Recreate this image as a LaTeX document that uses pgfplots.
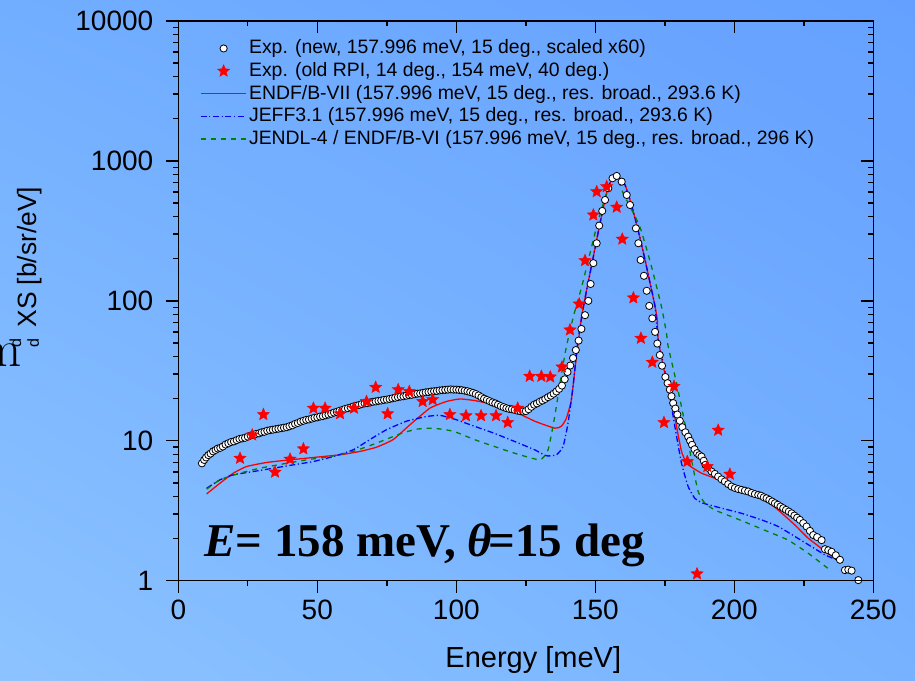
\documentclass[border=0pt]{standalone}
\usepackage{fontspec}
\setsansfont{Liberation Sans}
\newfontfamily\timesfont{Liberation Serif}
\usepackage{pgfplots}
\usetikzlibrary{shadings}
\pgfplotsset{compat=1.18}
\pgfdeclareplotmark{fstar}{%
  \pgfpathmoveto{\pgfpointpolar{90}{\pgfplotmarksize}}%
  \pgfpathlineto{\pgfpointpolar{126}{0.45\pgfplotmarksize}}%
  \pgfpathlineto{\pgfpointpolar{162}{\pgfplotmarksize}}%
  \pgfpathlineto{\pgfpointpolar{198}{0.45\pgfplotmarksize}}%
  \pgfpathlineto{\pgfpointpolar{234}{\pgfplotmarksize}}%
  \pgfpathlineto{\pgfpointpolar{270}{0.45\pgfplotmarksize}}%
  \pgfpathlineto{\pgfpointpolar{306}{\pgfplotmarksize}}%
  \pgfpathlineto{\pgfpointpolar{342}{0.45\pgfplotmarksize}}%
  \pgfpathlineto{\pgfpointpolar{18}{\pgfplotmarksize}}%
  \pgfpathlineto{\pgfpointpolar{54}{0.45\pgfplotmarksize}}%
  \pgfpathclose
  \pgfusepathqfillstroke}
\pgfplotsset{
  markleg/.style={legend image code/.code={\draw[##1] plot coordinates {(11.5pt,0pt)};}},
  lineleg/.style={legend image code/.code={\draw[##1] (0pt,0pt) -- (22.5pt,0pt);}},
}
\definecolor{bgUL}{RGB}{114,174,255}
\definecolor{bgUR}{RGB}{100,160,255}
\definecolor{bgLL}{RGB}{140,195,255}
\definecolor{bgLR}{RGB}{118,178,255}
\definecolor{jgreen}{RGB}{0,128,0}
\pgfplotstableread{
x y
8.5 6.9
9.3 7.3
10 7.6
10.8 7.9
11.6 8.1
12.5 8.4
13.4 8.6
14.2 8.8
15.1 8.9
16 9.1
17 9.4
18 9.6
19 9.8
20 9.9
21 10.1
22 10.3
23 10.4
24 10.5
25 10.7
26 10.9
27 11.0
28 11.2
29 11.3
30 11.5
31 11.6
32 11.8
33 11.9
34 12.0
35 12.1
36 12.2
37 12.3
38 12.4
39 12.5
40 12.7
41 12.9
42 13.2
43 13.4
44 13.7
45 13.9
46 14.1
47 14.2
48 14.4
49 14.6
50 14.7
51 14.9
52 15.0
53 15.2
54 15.4
55 15.6
56 15.9
57 16.1
58 16.4
59 16.6
60 16.9
61 17.1
62 17.3
63 17.6
64 17.8
65 18.0
66 18.3
67 18.5
68 18.6
69 18.8
70 19.0
71 19.1
72 19.3
73 19.4
74 19.6
75 19.7
76 19.9
77 20.1
78 20.3
79 20.5
80 20.7
81 20.8
82 21.0
83 21.2
84 21.3
85 21.5
86 21.7
87 21.8
88 22.0
89 22.2
90 22.3
91 22.5
92 22.6
93 22.7
94 22.9
95 23.0
96 23.1
97 23.2
98 23.3
99 23.2
100 23.2
101 23.1
102 23.0
103 22.8
104 22.6
105 22.3
106 22.0
107 21.6
108 21.1
109 20.5
110 20.0
111 19.6
112 19.2
113 18.8
114 18.5
115 18.1
116 17.7
117 17.4
118 17.1
119 16.9
120 16.8
121 16.6
122 16.4
123 16.3
124 16.2
125 16.3
126 16.8
127 17.5
128 18.1
129 18.5
130 19.0
131 19.4
132 19.9
133 20.5
134 21.0
135 21.7
136 22.5
137 23.5
138 24.8
139 27.5
140 31.0
141 34.5
142 39
143 44.5
144 52
145 63
146.3 79
147.5 100
148.3 132
149.3 186
150.5 258
151.4 345
152.5 439
153.5 526
154.7 638
156.2 752
157.7 781
159.5 711
161.3 571
162.5 484
164.6 330
165.5 258
166.3 196
167.5 151
168.5 118
169.4 92
170.5 75
171.5 60
172.3 49.5
173.2 41
174.0 34.4
175.2 28.6
176.0 25.8
176.8 23.2
177.4 20.8
178.0 18.6
178.8 17
179.5 15.4
180.4 13.9
181.3 12.5
182.4 11.5
183.4 10.7
184.1 10.0
184.8 9.36
185.7 8.7
186.6 8.16
187.4 7.9
188.2 7.72
189 7.2
189.6 6.73
190.6 6.4
191.8 6.03
193 5.8
194.2 5.55
195.4 5.3
196.6 5.12
197.8 4.9
199.0 4.71
200.2 4.6
201.4 4.52
202.6 4.46
203.8 4.4
205.0 4.34
206.2 4.24
207.4 4.16
208.6 4.10
209.6 4.05
210.6 3.95
211.6 3.88
212.6 3.78
213.6 3.68
214.6 3.58
215.6 3.49
216.6 3.39
217.6 3.30
218.6 3.21
219.6 3.12
220.6 3.03
221.6 2.92
222.6 2.82
223.6 2.72
224.8 2.58
226.0 2.44
227.2 2.27
228.4 2.12
229.8 2.05
231.4 1.95
232.6 1.68
233.8 1.65
235.0 1.61
236.5 1.52
238.0 1.41
239.8 1.19
241 1.2
242.2 1.18
244.6 1.01
}\expnew
\pgfplotstableread{
x y
22.2 7.5
26.6 11.0
30.6 15.4
34.8 5.97
40.2 7.39
45.0 8.76
48.6 17.1
52.8 17.1
58.2 15.6
63.2 17.1
67.7 19.1
71.0 24.1
75.3 15.6
79.1 23.2
83.1 22.5
87.9 19.1
91.5 19.7
97.7 15.4
103.5 15.1
108.9 15.1
114.3 15.1
118.5 13.5
122.1 17.1
126.4 28.9
130.6 28.9
133.8 28.6
138.0 33.7
140.9 62
144.2 95
146.3 194
149.3 411
150.5 603
154.1 655
157.7 467
159.7 276
163.7 105
166.4 54
170.5 36.4
174.7 13.5
178.3 24.5
183.1 7.11
186.6 1.12
190.3 6.55
194.2 11.9
198.4 5.77
}\expold
\pgfplotstableread{
x y
10.2 4.17
15 4.98
19.8 5.87
24.6 6.55
31.8 7.0
40.2 7.31
49.8 7.64
58.2 7.94
65.3 8.39
71.3 9.0
77.3 10.2
83.3 13
90.5 17.1
96.5 19.1
101.3 19.9
106.5 19.4
113.7 18.1
120.9 16.2
128.2 13.8
135.4 12.3
137.8 12.7
139.6 14.5
141.4 19.7
143.2 40
145.1 77
146.9 120
149.3 207
151.7 359
153.5 526
154.7 655
156.2 752
157.7 785
158.9 752
160.7 674
162.5 526
164.3 389
166.1 280
167.9 196
169.7 134
171.5 91
172.3 73
172.6 52.9
174.7 32.2
176.2 25.9
178.6 14.9
179.2 12.7
181.0 8.4
182.8 6.92
185.2 6.37
188.2 5.87
193 5.4
199 4.84
205 4.22
211 3.78
215.8 3.2
221.8 2.5
226.6 2.01
231.4 1.70
236.8 1.41
}\endfb
\pgfplotstableread{
x y
10.2 4.58
15 5.26
19.8 5.71
27 6.03
34.2 6.37
41.4 6.73
48.6 7.11
55.8 7.72
62.9 8.62
68.9 10.2
74.9 12.0
82.1 13.8
89.3 14.9
94.1 15.2
99.3 14.3
106.5 12.7
113.7 11.3
120.9 9.9
128.2 8.62
132.4 7.81
136 7.94
138.4 9.1
140.2 13.4
142.0 24.5
143.5 47.4
145.1 77
146.9 120
149.3 207
151.7 359
153.5 526
154.7 655
156.2 752
157.7 785
158.9 752
160.7 674
162.5 526
164.3 389
166.1 280
167.9 196
169.7 134
171.5 91
172.6 52.9
174.7 34
176.8 20.8
178.6 12.7
181 6.92
183.4 4.71
185.8 3.88
188.8 3.58
195.4 3.30
202.6 3.03
209.8 2.72
215.8 2.44
221.8 2.07
227.8 1.75
232.6 1.53
236.8 1.41
}\jeff
\pgfplotstableread{
x y
10.2 4.51
15 5.26
22.2 5.87
29.4 6.37
37.8 6.84
46.2 7.31
54.6 7.72
62.9 8.39
71.3 9.62
79.7 11.2
85.7 12.1
91.7 12.3
98.9 11.7
106.5 10.2
113.7 9.1
120.9 8.16
130 7.31
133 8.6
135.4 14.9
137.5 27.3
139.6 47
142.1 77
145.1 126
148.1 219
151.1 379
154.1 588
155.9 711
157.7 773
158.9 680
160 588
166 340
170.2 176
173.8 91
175.6 58.7
176.2 47.4
179.2 25.9
182.2 13.4
184.6 7.31
187 4.34
189.4 3.58
193 3.2
199 2.87
205 2.57
212.2 2.24
219.4 1.95
226.6 1.57
233.8 1.22
}\jendl
\begin{document}
\begin{tikzpicture}
\shade[upper left=bgUL, upper right=bgUR, lower left=bgLL, lower right=bgLR] (-89.15pt,-49.65pt) rectangle (368.35pt,290.35pt);
\begin{axis}[
  at={(0pt,0pt)}, anchor=south west,
  width=347.5pt, height=279.85pt, scale only axis,
  xmin=0, xmax=250, ymin=1, ymax=10000, ymode=log,
  xtick={0,50,...,250}, minor xtick={25,75,...,225},
  ytick={1,10,100,1000,10000}, yticklabels={1,10,100,1000,10000},
  minor ytick={2,3,4,5,6,7,8,9,20,30,40,50,60,70,80,90,200,300,400,500,600,700,800,900,2000,3000,4000,5000,6000,7000,8000,9000},
  tick pos=left, tick align=outside,
  major tick length=6pt, minor tick length=2.75pt,
  axis line style={line width=0.75pt},
  every tick/.style={black, line width=0.7pt},
  tick label style={font=\sffamily\fontsize{14}{16}\selectfont},
  yticklabel style={xshift=-3pt},
  /pgf/number format/assume math mode=true,
  legend style={at={(0.022,0.979)}, anchor=north west, draw=none, fill=none,
    font=\sffamily\fontsize{9.7}{12}\selectfont, row sep=0pt,
    nodes={inner sep=1.4pt}},
  legend cell align=left,
]
\addplot[only marks, mark=*, mark size=1.8pt, mark options={fill=white, draw=black, line width=0.4pt}, markleg] table[x=x,y=y] {\expnew};
\addlegendentry{Exp. (new, 157.996 meV, 15 deg., scaled x60)}
\addplot[only marks, mark=fstar, mark size=3.2pt, mark options={fill=red, draw=red, line width=0.2pt}, markleg] table[x=x,y=y] {\expold};
\addlegendentry{Exp. (old RPI, 14 deg., 154 meV, 40 deg.)}
\addplot[red, line width=0.65pt, smooth, tension=0.3, lineleg] table[x=x,y=y] {\endfb};
\addlegendentry{ENDF/B-VII (157.996 meV, 15 deg., res. broad., 293.6 K)}
\addplot[blue, line width=0.65pt, smooth, tension=0.3, dash pattern=on 3pt off 1.3pt on 0.6pt off 1.3pt, lineleg] table[x=x,y=y] {\jeff};
\addlegendentry{JEFF3.1 (157.996 meV, 15 deg., res. broad., 293.6 K)}
\addplot[jgreen, line width=0.65pt, smooth, tension=0.3, dash pattern=on 2.5pt off 2.5pt, lineleg] table[x=x,y=y] {\jendl};
\addlegendentry{JENDL-4 / ENDF/B-VI (157.996 meV, 15 deg., res. broad., 296 K)}
\node[anchor=base west, inner sep=0pt, font=\timesfont\bfseries\fontsize{23.5}{28}\selectfont]
  at (rel axis cs:0.037,0.044) {\textit{E}= 158 meV, \textit{θ}\kern-0.08em=15 deg};
\end{axis}
\begin{axis}[
  at={(0pt,0pt)}, anchor=south west,
  width=347.5pt, height=279.85pt, scale only axis,
  xmin=0, xmax=250, ymin=1, ymax=10000, ymode=log,
  xtick={0,50,...,250}, minor xtick={25,75,...,225},
  ytick={1,10,100,1000,10000},
  minor ytick={2,3,4,5,6,7,8,9,20,30,40,50,60,70,80,90,200,300,400,500,600,700,800,900,2000,3000,4000,5000,6000,7000,8000,9000},
  xticklabels={}, yticklabels={},
  tick pos=right, tick align=inside,
  major tick length=6pt, minor tick length=2.75pt,
  axis line style={line width=0.75pt},
  every tick/.style={black, line width=0.7pt},
]
\end{axis}
\node[font=\sffamily\fontsize{14.5}{17}\selectfont] at (177.5pt,-39.5pt) {Energy [meV]};
\node[rotate=90, anchor=west, inner sep=0pt, font=\sffamily\fontsize{13.2}{15}\selectfont] at (-74.15pt,126.35pt) {XS [b/sr/eV]};
\node[rotate=90, inner sep=0pt, font=\sffamily\fontsize{8}{7}\selectfont] at (-77pt,119pt) {\shortstack{d\\d}};
\node[anchor=east, inner sep=0pt, font=\rmfamily\fontsize{26}{30}\selectfont] at (-78pt,113pt) {m};
\pgfresetboundingbox
\useasboundingbox (-89.15pt,-49.65pt) rectangle (368.35pt,290.35pt);
\end{tikzpicture}
\end{document}
